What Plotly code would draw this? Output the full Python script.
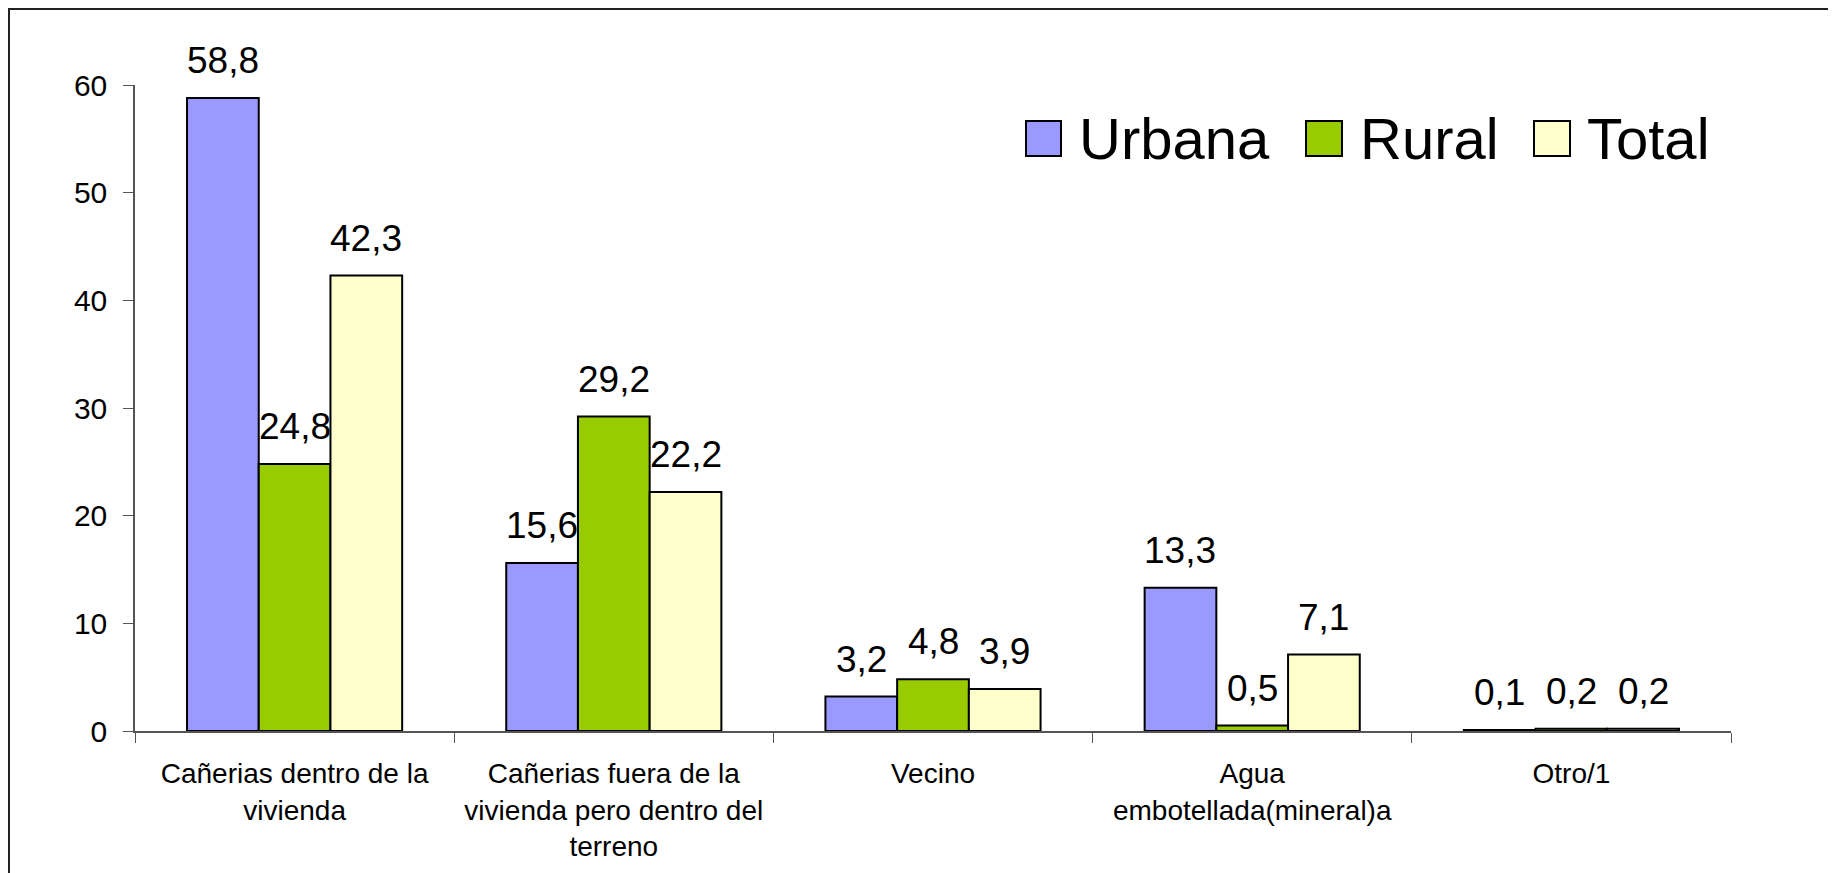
import plotly.graph_objects as go

# --- data ---
categories = [
    "Cañerias dentro de la<br>vivienda",
    "Cañerias fuera de la<br>vivienda pero dentro del<br>terreno",
    "Vecino",
    "Agua<br>embotellada(mineral)a",
    "Otro/1",
]
urbana = [58.8, 15.6, 3.2, 13.3, 0.1]
rural = [24.8, 29.2, 4.8, 0.5, 0.2]
total = [42.3, 22.2, 3.9, 7.1, 0.2]

series_names = ["Urbana", "Rural", "Total"]
series_values = [urbana, rural, total]
series_colors = ["#9999FF", "#99CC00", "#FFFFCC"]

# --- geometry, in page pixels (page body has an 8px margin) ---
PAGE_W, PAGE_H, OFF = 1836, 873, 8
W, H = PAGE_W - OFF, PAGE_H - OFF
PL, PT, PR, PB = 135, 85, 1731, 731  # plot area on the page
PW, PH = PR - PL, PB - PT
FONT = "Arial, Liberation Sans, sans-serif"


def px(x):
    return (x - PL) / PW


def py(y):
    return (PB - y) / PH


fig = go.Figure()
for name, vals, col in zip(series_names, series_values, series_colors):
    fig.add_trace(go.Bar(
        x=categories, y=vals, name=name,
        marker=dict(color=col, line=dict(color="black", width=2)),
        showlegend=False,
    ))

# value labels above bars
bar_w = PW / len(categories) * (1 - 0.326) / 3
annotations = []
for i, vals in enumerate(series_values):
    for cat, v in zip(categories, vals):
        annotations.append(dict(
            x=cat, y=v, xref="x", yref="y",
            text=f"{v:.1f}".replace(".", ","),
            showarrow=False, xshift=(i - 1) * bar_w, yshift=15,
            yanchor="bottom", font=dict(size=37, color="black", family=FONT),
        ))

# manual legend with large swatches
shapes = []
legend_sq = [(1026, 1061), (1306, 1342), (1534, 1570)]
legend_tx = [1077, 1358, 1585]
for name, col, (x0, x1), tx in zip(series_names, series_colors, legend_sq, legend_tx):
    shapes.append(dict(type="rect", xref="paper", yref="paper",
                       x0=px(x0), x1=px(x1), y0=py(156), y1=py(121),
                       fillcolor=col, line=dict(color="black", width=2)))
    annotations.append(dict(x=px(tx), y=py(139), xref="paper", yref="paper",
                            text=name, showarrow=False, xanchor="left", yanchor="middle",
                            font=dict(size=58, color="black", family=FONT)))

# slide frame: white panel with dark border, blue strip on the right
bg = [
    dict(type="rect", xref="paper", yref="paper", layer="below",
         x0=px(1829), x1=px(PAGE_W + 2), y0=py(PAGE_H + 2), y1=py(OFF - 2),
         fillcolor="#3a3aa6", line=dict(width=0)),
    dict(type="rect", xref="paper", yref="paper", layer="below",
         x0=px(OFF + 1), x1=px(1829), y0=py(PAGE_H + 20), y1=py(OFF + 1),
         fillcolor="white", line=dict(color="#222222", width=2)),
]

fig.update_layout(
    width=W, height=H,
    margin=dict(l=PL - OFF, r=PAGE_W - PR, t=PT - OFF, b=PAGE_H - PB),
    paper_bgcolor="white",
    plot_bgcolor="rgba(0,0,0,0)",
    barmode="group", bargap=0.326, bargroupgap=0,
    font=dict(family=FONT, color="black"),
    shapes=bg + shapes,
    annotations=annotations,
    xaxis=dict(
        showline=True, linecolor="#555555", linewidth=1.5,
        ticks="outside", ticklen=10, tickcolor="#555555", tickson="boundaries",
        tickfont=dict(size=28, color="black"), ticklabelstandoff=17,
        showgrid=False,
    ),
    yaxis=dict(
        range=[0, 60], dtick=10, showline=True, linecolor="#555555", linewidth=1.5,
        ticks="outside", ticklen=10, tickcolor="#555555",
        tickfont=dict(size=30, color="black"), ticklabelstandoff=10,
        showgrid=False, zeroline=False,
    ),
)

fig.write_html("out.html")
